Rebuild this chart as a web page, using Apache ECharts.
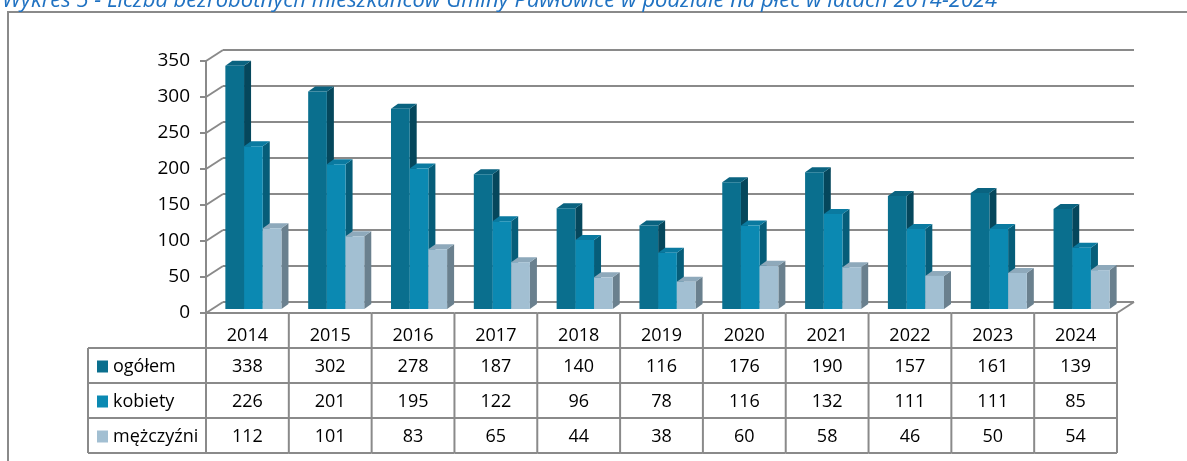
<!DOCTYPE html>
<html>
<head>
<meta charset="utf-8">
<script src="https://cdn.jsdelivr.net/npm/echarts@6/dist/echarts.min.js"></script>
<style>
  html, body { margin: 0; padding: 0; background: #fff; }
  #chart { width: 1187px; height: 461px; }
</style>
</head>
<body>
<div id="chart"></div>
<script>
// dane z wykresu
const years = ['2014', '2015', '2016', '2017', '2018', '2019', '2020', '2021', '2022', '2023', '2024'];
const ogolem = [338, 302, 278, 187, 140, 116, 176, 190, 157, 161, 139];
const kobiety = [226, 201, 195, 122, 96, 78, 116, 132, 111, 111, 85];
const mezczyzni = [112, 101, 83, 65, 44, 38, 60, 58, 46, 50, 54];
const seriesNames = ['ogółem', 'kobiety', 'mężczyźni'];
const yTicks = [0, 50, 100, 150, 200, 250, 300, 350];
const titleText = 'Wykres 5 - Liczba bezrobotnych mieszkańców Gminy Pawłowice w podziale na płeć w latach 2014-2024';

// kolory: przód, bok, góra
const colors = [
  { front: '#0a6f8e', side: '#05475c', top: '#0a6380' },
  { front: '#0b89b2', side: '#065d79', top: '#0a7aa0' },
  { front: '#a2bfd2', side: '#6a808e', top: '#8ea9bb' }
];

const FONT = 'Open Sans';
const GRID_COLOR = '#8a8a8a';
const DEPTH_X = 17, DEPTH_Y = -11;   // głębokość tylnej ściany
const BAR_W = 18.7, BAR_DX = 7, BAR_DY = -5, BAR_SHIFT_X = 6, BAR_SHIFT_Y = -4;
const ROW_H = 35, HEAD_LEFT = 88;

const chart = echarts.init(document.getElementById('chart'), null, { renderer: 'canvas' });

// ściany i podłoga
function renderWall(params, api) {
  const cs = params.coordSys;
  const v = api.value(0);
  const y = api.coord([0, v])[1];
  const x0 = cs.x, x1 = cs.x + cs.width;
  const style = { stroke: GRID_COLOR, lineWidth: 2 };
  const children = [
    { type: 'line', shape: { x1: x0, y1: y, x2: x0 + DEPTH_X, y2: y + DEPTH_Y }, style },
    { type: 'line', shape: { x1: x0 + DEPTH_X, y1: y + DEPTH_Y, x2: x1 + DEPTH_X, y2: y + DEPTH_Y }, style }
  ];
  if (v === 0) {
    children.push({ type: 'line', shape: { x1: x1, y1: y, x2: x1 + DEPTH_X, y2: y + DEPTH_Y }, style });
  }
  return { type: 'group', children };
}

// słupki 3D
function makeBarRenderer(k) {
  return function (params, api) {
    const idx = api.value(0);
    const val = api.value(1);
    const base = api.coord([idx, 0]);
    const top = api.coord([idx, val]);
    const L = base[0] + BAR_SHIFT_X + (k - 1.5) * BAR_W;
    const R = L + BAR_W;
    const B = base[1] + BAR_SHIFT_Y;
    const T = top[1] + BAR_SHIFT_Y;
    const c = colors[k];
    return {
      type: 'group',
      children: [
        { type: 'polygon', shape: { points: [[R, T], [R + BAR_DX, T + BAR_DY], [R + BAR_DX, B + BAR_DY], [R, B]] }, style: { fill: c.side } },
        { type: 'polygon', shape: { points: [[L, T], [L + BAR_DX, T + BAR_DY], [R + BAR_DX, T + BAR_DY], [R, T]] }, style: { fill: c.top } },
        { type: 'rect', shape: { x: L, y: T, width: R - L, height: B - T }, style: { fill: c.front } }
      ]
    };
  };
}

// tabela danych
function renderTable(params, api) {
  const cs = params.coordSys;
  const idx = api.value(0);
  const band = api.size([1, 0])[0];
  const cx = api.coord([idx, 0])[0];
  const y0 = cs.y + cs.height;
  const left = cx - band / 2, right = cx + band / 2;
  const line = { stroke: GRID_COLOR, lineWidth: 2 };
  const txt = (text, x, y, align) => ({
    type: 'text',
    style: { text, x, y, align: align || 'center', verticalAlign: 'middle', fill: '#000', font: '18px "' + FONT + '"' }
  });
  const children = [
    { type: 'line', shape: { x1: right, y1: y0, x2: right, y2: y0 + ROW_H * 4 }, style: line },
    txt(years[idx], cx, y0 + ROW_H / 2 + 5)
  ];
  for (let r = 0; r < 3; r++) {
    children.push(txt(String(api.value(r + 1)), cx, y0 + ROW_H * (r + 1) + ROW_H / 2 + 1));
  }
  for (let r = 0; r <= 4; r++) {
    children.push({ type: 'line', shape: { x1: left, y1: y0 + ROW_H * r, x2: right, y2: y0 + ROW_H * r }, style: line });
  }
  if (idx === 0) {
    children.push({ type: 'line', shape: { x1: left, y1: y0, x2: left, y2: y0 + ROW_H * 4 }, style: line });
    children.push({ type: 'line', shape: { x1: HEAD_LEFT, y1: y0 + ROW_H, x2: HEAD_LEFT, y2: y0 + ROW_H * 4 }, style: line });
    for (let r = 1; r <= 4; r++) {
      children.push({ type: 'line', shape: { x1: HEAD_LEFT, y1: y0 + ROW_H * r, x2: left, y2: y0 + ROW_H * r }, style: line });
    }
    seriesNames.forEach((name, r) => {
      const yc = y0 + ROW_H * (r + 1) + ROW_H / 2;
      children.push({ type: 'rect', shape: { x: HEAD_LEFT + 9, y: yc - 5, width: 11, height: 12 }, style: { fill: colors[r].front } });
      children.push(txt(name, HEAD_LEFT + 25, yc + 1, 'left'));
    });
  }
  return { type: 'group', children };
}

chart.setOption({
  animation: false,
  backgroundColor: '#fff',
  title: {
    text: titleText,
    left: -3,
    top: -15,
    textStyle: { fontFamily: FONT, fontStyle: 'italic', fontWeight: 'normal', fontSize: 22, color: '#2072c2' }
  },
  graphic: [{
    type: 'rect',
    shape: { x: 8, y: 12, width: 1300, height: 600 },
    style: { fill: 'none', stroke: GRID_COLOR, lineWidth: 2 },
    silent: true
  }],
  grid: { left: 206, right: 70, top: 61, bottom: 148 },
  xAxis: {
    type: 'category',
    data: years,
    axisLine: { show: false },
    axisTick: { show: false },
    axisLabel: { show: false }
  },
  yAxis: {
    type: 'value',
    min: 0,
    max: 350,
    interval: 50,
    splitLine: { show: false },
    axisLine: { show: true, lineStyle: { color: GRID_COLOR, width: 2 } },
    axisTick: { show: true, length: 6, lineStyle: { color: GRID_COLOR, width: 2 } },
    axisLabel: { color: '#000', fontFamily: FONT, fontSize: 19, margin: 16 }
  },
  series: [
    {
      type: 'custom', name: 'wall', silent: true, z: 1, clip: false,
      renderItem: renderWall,
      data: yTicks.map(v => [v])
    },
    {
      type: 'custom', name: seriesNames[0], z: 2, clip: false,
      renderItem: makeBarRenderer(0),
      data: ogolem.map((v, i) => [i, v])
    },
    {
      type: 'custom', name: seriesNames[1], z: 2, clip: false,
      renderItem: makeBarRenderer(1),
      data: kobiety.map((v, i) => [i, v])
    },
    {
      type: 'custom', name: seriesNames[2], z: 2, clip: false,
      renderItem: makeBarRenderer(2),
      data: mezczyzni.map((v, i) => [i, v])
    },
    {
      type: 'custom', name: 'table', silent: true, z: 3, clip: false,
      renderItem: renderTable,
      data: years.map((y, i) => [i, ogolem[i], kobiety[i], mezczyzni[i]])
    }
  ]
});
</script>
</body>
</html>
